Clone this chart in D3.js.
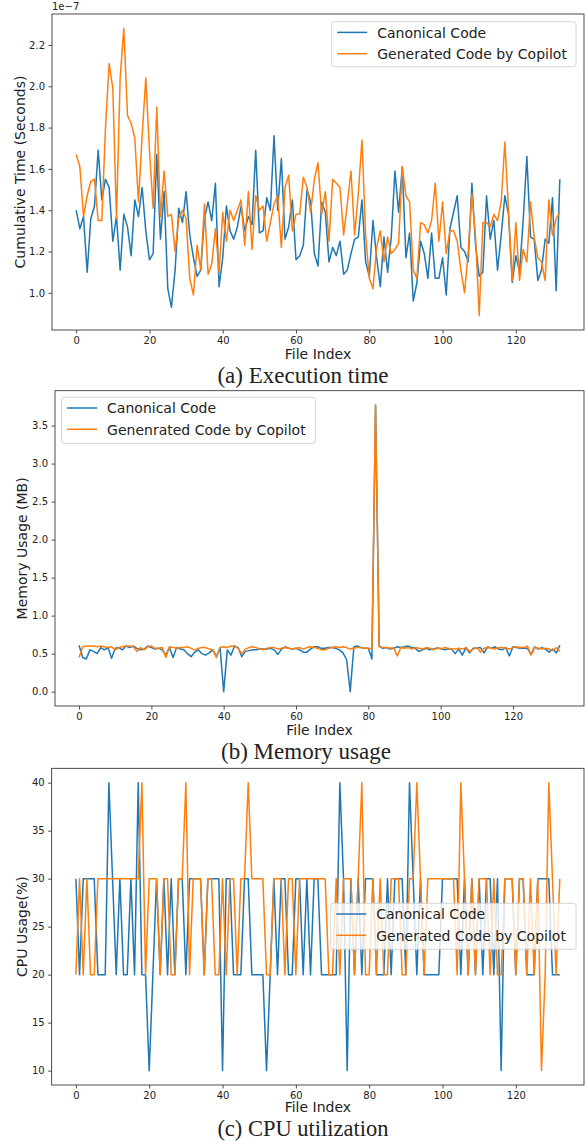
<!DOCTYPE html>
<html><head><meta charset="utf-8">
<script src="https://cdn.jsdelivr.net/npm/d3@7"></script>
<style>
body{margin:0;background:#fff;}
svg{display:block;}
text{font-family:"DejaVu Sans",sans-serif;fill:#222;}
</style></head><body>
<svg id="chart" width="585" height="1141"></svg>
<script>
// ---------- DATA ----------
const fileTicks = [0, 20, 40, 60, 80, 100, 120];
const execTicks = [1.0, 1.2, 1.4, 1.6, 1.8, 2.0, 2.2];
const memTicks = [0.0, 0.5, 1.0, 1.5, 2.0, 2.5, 3.0, 3.5];
const cpuTicks = [10, 15, 20, 25, 30, 35, 40];

// Execution time (x1e-7 s), files 0..132
const execCanonical = [1.40,1.31,1.37,1.10,1.36,1.42,1.69,1.45,1.55,1.51,1.25,1.37,1.11,1.38,1.32,1.18,1.45,1.37,1.51,1.30,
1.16,1.19,1.67,1.26,1.49,1.02,0.93,1.11,1.41,1.34,1.49,1.28,1.17,1.08,1.11,1.36,1.44,1.35,1.53,1.03,
1.17,1.42,1.30,1.26,1.32,1.42,1.30,1.37,1.33,1.69,1.29,1.30,1.46,1.40,1.76,1.40,1.65,1.26,1.32,1.45,
1.16,1.18,1.23,1.50,1.44,1.19,1.13,1.44,1.39,1.15,1.22,1.18,1.25,1.09,1.11,1.19,1.26,1.27,1.45,1.15,
1.08,1.35,1.17,1.03,1.27,1.10,1.27,1.59,1.39,1.61,1.17,1.29,0.96,1.05,1.25,1.19,1.07,1.29,1.07,1.07,
1.17,0.99,1.31,1.39,1.47,1.22,1.20,1.15,1.53,1.23,1.08,1.10,1.47,1.26,1.35,1.11,1.28,1.47,1.38,1.05,
1.18,1.10,1.35,1.66,1.27,1.26,1.06,1.11,1.26,1.24,1.46,1.01,1.55];
const execCopilot = [1.67,1.61,1.37,1.47,1.54,1.55,1.35,1.35,1.80,2.11,1.99,1.36,2.04,2.28,1.86,1.82,1.75,1.44,1.76,2.04,
1.69,1.41,1.90,1.37,1.59,1.37,1.38,1.20,1.36,1.40,1.36,1.07,0.99,1.23,1.11,1.43,1.09,1.14,1.31,1.10,
1.39,1.25,1.40,1.35,1.40,1.45,1.23,1.49,1.21,1.47,1.40,1.42,1.25,1.34,1.43,1.47,1.22,1.51,1.57,1.30,
1.38,1.38,1.56,1.51,1.39,1.55,1.63,1.38,1.49,1.25,1.55,1.53,1.51,1.28,1.43,1.59,1.28,1.48,1.74,1.28,
1.07,1.02,1.22,1.30,1.15,1.27,1.19,1.21,1.24,1.61,1.47,1.44,1.11,1.07,1.34,1.33,1.29,1.35,1.53,1.25,
1.44,1.19,1.30,1.30,1.25,1.11,1.00,1.20,1.48,1.27,0.89,1.34,1.34,1.32,1.38,1.35,1.44,1.73,1.40,1.06,
1.34,1.06,1.21,1.15,1.44,1.27,1.17,1.15,1.06,1.45,1.28,1.36,1.39];

// Memory usage (MB), files 0..133
const memCanonical = [0.61,0.45,0.43,0.55,0.53,0.50,0.58,0.55,0.58,0.44,0.57,0.58,0.55,0.60,0.58,0.60,0.57,0.55,0.56,0.60,
0.58,0.56,0.57,0.55,0.48,0.58,0.45,0.58,0.56,0.55,0.50,0.46,0.52,0.55,0.50,0.48,0.51,0.55,0.46,0.58,
0.00,0.55,0.48,0.60,0.58,0.46,0.53,0.54,0.55,0.55,0.56,0.56,0.56,0.57,0.55,0.49,0.56,0.59,0.57,0.56,
0.57,0.55,0.52,0.52,0.56,0.59,0.59,0.57,0.57,0.58,0.58,0.57,0.55,0.51,0.42,0.00,0.59,0.60,0.58,0.57,
0.57,0.43,3.77,0.60,0.57,0.58,0.56,0.57,0.59,0.58,0.59,0.60,0.58,0.57,0.53,0.55,0.57,0.55,0.56,0.57,
0.57,0.55,0.56,0.56,0.50,0.56,0.48,0.58,0.51,0.57,0.57,0.58,0.51,0.59,0.57,0.59,0.56,0.55,0.58,0.47,
0.59,0.58,0.57,0.57,0.57,0.49,0.59,0.56,0.58,0.56,0.52,0.56,0.51,0.61];
const memCopilot = [0.45,0.59,0.60,0.60,0.60,0.59,0.60,0.59,0.58,0.59,0.55,0.58,0.59,0.60,0.60,0.59,0.53,0.58,0.55,0.59,
0.60,0.57,0.57,0.58,0.45,0.59,0.58,0.57,0.58,0.58,0.59,0.57,0.55,0.57,0.58,0.58,0.56,0.55,0.45,0.58,
0.59,0.58,0.60,0.60,0.57,0.50,0.56,0.58,0.59,0.58,0.56,0.55,0.57,0.58,0.58,0.56,0.57,0.58,0.57,0.56,
0.57,0.58,0.56,0.58,0.59,0.58,0.57,0.55,0.55,0.57,0.58,0.59,0.58,0.59,0.58,0.56,0.57,0.58,0.58,0.57,
0.57,0.56,3.77,0.59,0.58,0.58,0.57,0.58,0.47,0.58,0.57,0.58,0.56,0.58,0.57,0.56,0.58,0.57,0.55,0.58,
0.56,0.58,0.57,0.56,0.56,0.57,0.56,0.58,0.53,0.56,0.58,0.52,0.57,0.58,0.57,0.56,0.58,0.58,0.57,0.56,
0.58,0.59,0.58,0.58,0.60,0.48,0.58,0.57,0.56,0.57,0.56,0.54,0.58,0.53];

// CPU usage (%), files 0..132
const cpuCanonical = [30,20,30,30,30,30,20,20,20,40,30,20,30,20,20,30,20,40,20,20,
10,20,30,20,30,20,30,20,30,30,20,30,30,30,30,20,30,30,30,30,
10,30,30,20,20,20,30,30,20,20,20,20,10,20,30,20,30,30,20,20,
30,30,20,30,20,30,30,20,20,20,20,20,40,30,10,30,20,30,20,30,
30,30,20,20,20,30,20,30,30,30,20,40,30,20,30,20,20,20,20,20,
30,30,30,30,30,20,30,20,30,20,30,20,30,30,20,30,10,30,30,30,
20,30,30,20,20,20,30,30,30,30,20,20,20];
const cpuCopilot = [20,30,20,30,20,20,30,30,30,30,30,30,30,30,30,30,30,30,40,20,
30,30,30,20,30,30,20,20,30,30,40,20,30,30,30,20,30,30,20,20,
30,20,30,30,20,30,30,40,30,30,30,30,20,20,30,30,30,20,30,30,
20,30,30,30,30,30,30,30,30,20,20,30,20,30,30,30,20,30,40,20,
20,30,20,30,20,20,30,30,30,20,20,30,30,40,30,20,30,30,30,30,
30,30,30,30,20,40,30,20,30,20,30,30,30,20,30,20,20,30,30,30,
20,30,30,20,30,20,30,10,20,40,30,20,30];

const seriesNames = ["Canonical Code", "Generated Code by Copilot"];
const memSeriesNames = ["Canonical Code", "Genenrated Code by Copilot"];
const colors = ["#1f77b4", "#ff7f0e"];

// ---------- DRAWING ----------
const svg = d3.select("#chart");

function panel(cfg) {
  const g = svg.append("g");
  const n = cfg.series[0].length;
  const padX = (n - 1) * 0.05;
  const x = d3.scaleLinear().domain([-padX, n - 1 + padX]).range([cfg.left, cfg.right]);
  const y = d3.scaleLinear().domain(cfg.yDomain).range([cfg.bottom, cfg.top]);

  const xAxis = g.append("g").attr("transform", `translate(0,${cfg.bottom})`)
    .call(d3.axisBottom(x).tickValues(fileTicks).tickFormat(d3.format("d")).tickSize(3.5).tickPadding(3.5));
  const yAxis = g.append("g").attr("transform", `translate(${cfg.left},0)`)
    .call(d3.axisLeft(y).tickValues(cfg.yTicks).tickFormat(cfg.yFormat).tickSize(3.5).tickPadding(3.5));
  [xAxis, yAxis].forEach(a => {
    a.select(".domain").remove();
    a.selectAll("line").attr("stroke", "#222").attr("stroke-width", 0.8);
    a.selectAll("text").attr("font-size", 10).attr("font-family", "DejaVu Sans").attr("fill", "#222");
  });

  const line = d3.line().x((d, i) => x(i)).y(d => y(d));
  cfg.series.forEach((s, k) => {
    g.append("path").datum(s).attr("d", line)
      .attr("fill", "none").attr("stroke", colors[k]).attr("stroke-width", 1.5)
      .attr("stroke-linejoin", "round");
  });

  g.append("rect").attr("x", cfg.left).attr("y", cfg.top)
    .attr("width", cfg.right - cfg.left).attr("height", cfg.bottom - cfg.top)
    .attr("fill", "none").attr("stroke", "#222").attr("stroke-width", 0.8);

  // legend
  const L = cfg.legend;
  g.append("rect").attr("x", L.x).attr("y", L.y).attr("width", L.w).attr("height", L.h)
    .attr("rx", 2.5).attr("fill", "#fff").attr("fill-opacity", 0.8)
    .attr("stroke", "#cccccc").attr("stroke-width", 0.8);
  cfg.names.forEach((nm, k) => {
    const yy = L.y + 10.7 + k * 21.3;
    g.append("line").attr("x1", L.x + 5.5).attr("x2", L.x + 35.5).attr("y1", yy).attr("y2", yy)
      .attr("stroke", colors[k]).attr("stroke-width", 1.5);
    g.append("text").attr("x", L.x + 45.5).attr("y", yy + 5.3).attr("font-size", 14).text(nm);
  });

  // axis labels
  g.append("text").attr("x", (cfg.left + cfg.right) / 2).attr("y", cfg.bottom + cfg.xlabelDy)
    .attr("text-anchor", "middle").attr("font-size", 14).text("File Index");
  g.append("text")
    .attr("transform", `translate(${cfg.ylabelX},${(cfg.top + cfg.bottom) / 2}) rotate(-90)`)
    .attr("text-anchor", "middle").attr("font-size", 14).text(cfg.ylabel);
  g.append("text").attr("x", cfg.captionX).attr("y", cfg.captionY)
    .attr("text-anchor", "middle").attr("font-size", cfg.captionSize)
    .style("font-family", "'Liberation Serif','Times New Roman',serif").text(cfg.caption);
  if (cfg.offset) {
    g.append("text").attr("x", cfg.left).attr("y", cfg.top - 4).attr("font-size", 10).text(cfg.offset);
  }
}

panel({
  series: [execCanonical, execCopilot], names: seriesNames,
  left: 52, right: 584, top: 14, bottom: 330,
  yDomain: [0.82, 2.35], yTicks: execTicks, yFormat: d3.format(".1f"),
  ylabel: "Cumulative Time (Seconds)", ylabelX: 25, xlabelDy: 28.5,
  caption: "(a) Execution time", captionX: 303, captionY: 382.5, captionSize: 23,
  offset: "1e\u22127",
  legend: {x: 331.7, y: 21.7, w: 244.3, h: 45}
});
panel({
  series: [memCanonical, memCopilot], names: memSeriesNames,
  left: 55, right: 584, top: 390.7, bottom: 706,
  yDomain: [-0.1885, 3.9585], yTicks: memTicks, yFormat: d3.format(".1f"),
  ylabel: "Memory Usage (MB)", ylabelX: 27, xlabelDy: 28.5,
  caption: "(b) Memory usage", captionX: 306, captionY: 759, captionSize: 23,
  legend: {x: 61.6, y: 397.3, w: 253.7, h: 46}
});
panel({
  series: [cpuCanonical, cpuCopilot], names: seriesNames,
  left: 51.7, right: 584, top: 768.3, bottom: 1085,
  yDomain: [8.5, 41.5], yTicks: cpuTicks, yFormat: d3.format("d"),
  ylabel: "CPU Usage(%)", ylabelX: 26.5, xlabelDy: 27,
  caption: "(c) CPU utilization", captionX: 303, captionY: 1135.5, captionSize: 22.5,
  legend: {x: 330.7, y: 903.3, w: 245.3, h: 46}
});
</script>
</body></html>
